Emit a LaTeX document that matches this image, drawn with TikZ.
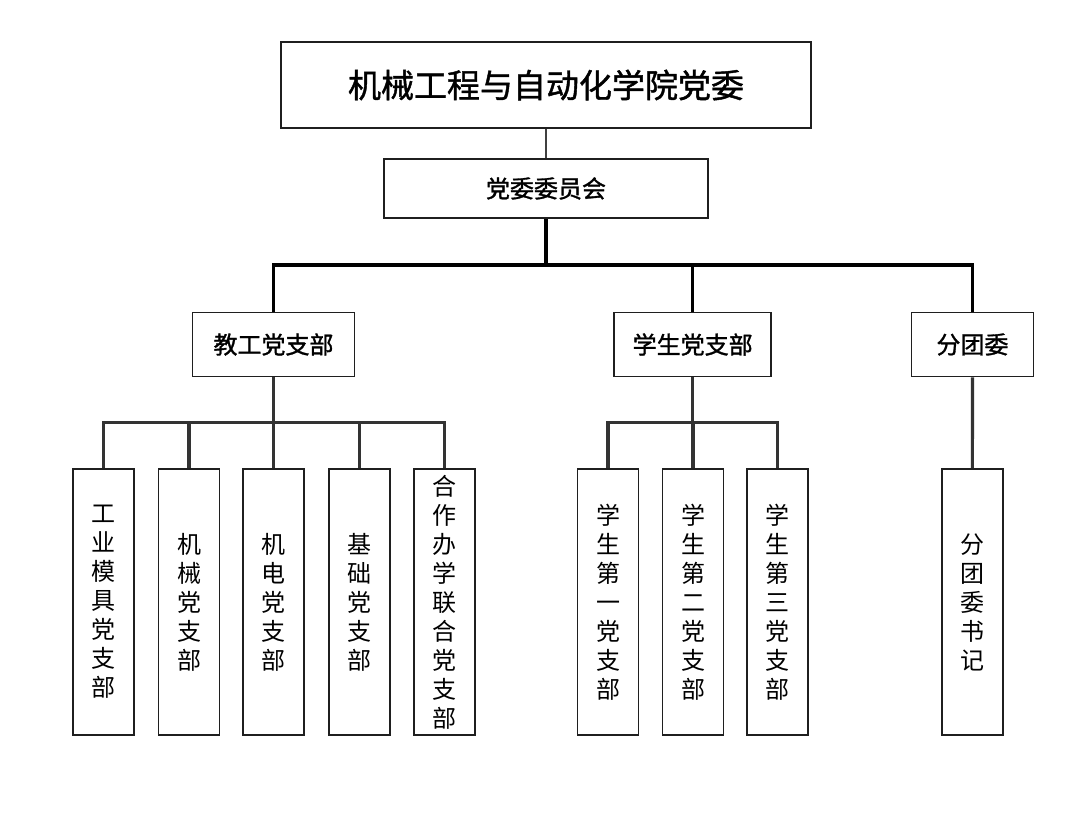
\documentclass[tikz,border=0pt]{standalone}
\usepackage{fontspec}
\setmainfont{Noto Sans CJK SC}
\newfontfamily\headfont[FakeBold=1.3]{Noto Sans CJK SC}
\usetikzlibrary{positioning}
\tikzset{
  box/.style={draw=black!88,line width=1.7pt,inner sep=0pt,align=center},
  mid/.style={box,minimum height=64pt,font=\headfont\fontsize{24}{29}\selectfont},
  leaf/.style={box,minimum width=61pt,minimum height=266pt,font=\fontsize{24}{29}\selectfont},
  link/.style={line width=3.2pt,black!80},
}
\begin{document}
\begin{tikzpicture}[x=1pt,y=-1pt]
\useasboundingbox (0,0) rectangle (1074,818);
% top
\node[box,minimum width=530pt,minimum height=86pt,font=\headfont\fontsize{33}{40}\selectfont] (college) at (546,85) {机械工程与自动化学院党委};
\node[box,minimum width=324pt,minimum height=59pt,font=\headfont\fontsize{24}{29}\selectfont] (cmte) at (546,188.5) {党委委员会};
\draw[line width=2.2pt,black!75] (college) -- (cmte);
% branches
\node[mid,minimum width=162pt] (jg) at (273.5,344.5) {教工党支部};
\node[mid,minimum width=157pt] (xs) at (692.7,344.5) {学生党支部};
\node[mid,minimum width=122pt] (ft) at (972.5,344.5) {分团委};
\coordinate (bus) at (546,265);
\draw[link,black,line width=3.4pt] (cmte) -- (bus);
\draw[link,black,line width=3.4pt] (jg.north) |- (bus) -| (ft.north);
\draw[link,black,line width=3.4pt] (xs.north) -- (xs |- bus);
% leaves
\coordinate (jbus) at (273.5,422.5);
\coordinate (xbus) at (692.7,422.5);
\draw[link] (jg) -- (jbus);
\draw[link] (xs) -- (xbus);
\foreach \n/\x/\t in {j1/103.3/工\\业\\模\\具\\党\\支\\部, j2/189/机\\械\\党\\支\\部,
    j3/273.8/机\\电\\党\\支\\部, j4/359.5/基\\础\\党\\支\\部,
    j5/444.3/合\\作\\办\\学\\联\\合\\党\\支\\部}{
  \node[leaf] (\n) at (\x,602) {\t};
  \draw[link] (jbus) -| (\n.north);
}
\foreach \n/\x/\t in {x1/608/学\\生\\第\\一\\党\\支\\部, x2/693/学\\生\\第\\二\\党\\支\\部,
    x3/777.8/学\\生\\第\\三\\党\\支\\部}{
  \node[leaf] (\n) at (\x,602) {\t};
  \draw[link] (xbus) -| (\n.north);
}
\node[leaf] (f1) at (972.2,602) {分\\团\\委\\书\\记};
\draw[link] (ft) -- (f1);
\end{tikzpicture}
\end{document}
